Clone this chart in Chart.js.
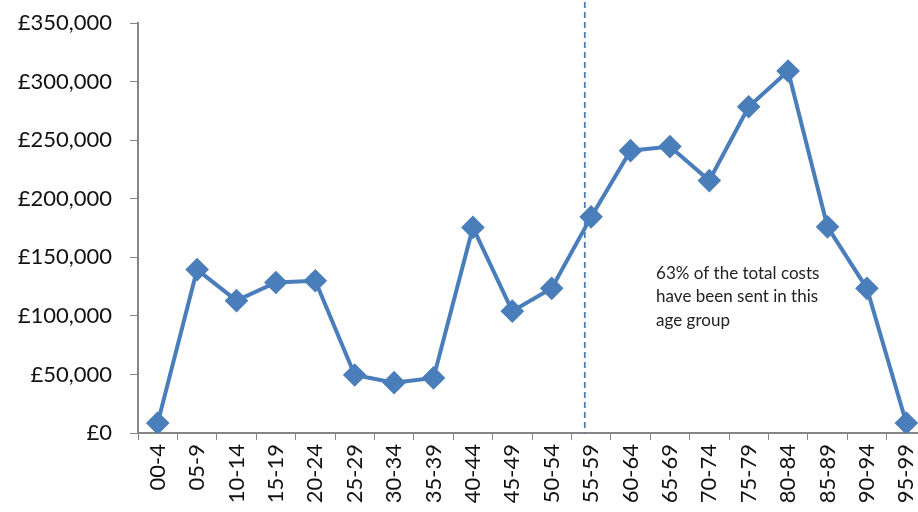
<!DOCTYPE html>
<html>
<head>
<meta charset="utf-8">
<script src="https://cdn.jsdelivr.net/npm/chart.js@4/dist/chart.umd.min.js"></script>
<style>
  html, body { margin: 0; padding: 0; background: #fff; overflow: hidden; }
  #wrap { width: 939px; height: 512px; }
</style>
</head>
<body>
<div id="wrap"><canvas id="costChart" width="939" height="512"></canvas></div>
<script>
var ageGroups = ['00-4', '05-9', '10-14', '15-19', '20-24', '25-29', '30-34', '35-39', '40-44', '45-49',
                 '50-54', '55-59', '60-64', '65-69', '70-74', '75-79', '80-84', '85-89', '90-94', '95-99'];
var costs = [8500, 139500, 113000, 128500, 130000, 49500, 43000, 47000, 175500, 104000,
             123500, 184500, 241000, 244500, 215500, 278500, 309000, 176000, 123500, 8500];
var yTicks = [0, 50000, 100000, 150000, 200000, 250000, 300000, 350000];
var markerPos = 10.84; // dashed line, between 50-54 and 55-59
var noteLines = ['63% of the total costs', 'have been sent in this', 'age group'];

var blue = '#4a7ebb';
var axisGrey = '#868686';

// dashed divider + note text
var notePlugin = {
    id: 'notePlugin',
    afterDatasetsDraw: function (chart) {
        var c = chart.ctx;
        var xs = chart.scales.x, ys = chart.scales.y;
        var px = xs.getPixelForValue(markerPos);
        c.save();
        c.strokeStyle = blue;
        c.lineWidth = 1.8;
        c.setLineDash([6, 4]);
        c.beginPath();
        c.moveTo(px, 2);
        c.lineTo(px, ys.bottom);
        c.stroke();
        c.restore();

        c.save();
        c.fillStyle = '#222';
        c.font = '17px Lato, "Open Sans", sans-serif';
        c.textBaseline = 'middle';
        var tx = xs.getPixelForValue(12.65);
        for (var i = 0; i < noteLines.length; i++) {
            c.fillText(noteLines[i], tx, ys.getPixelForValue(136500) + i * 23.5);
        }
        c.restore();
    }
};

var ctx = document.getElementById('costChart').getContext('2d');
var costChart = new Chart(ctx, {
    type: 'line',
    data: {
        labels: ageGroups,
        datasets: [{
            data: costs,
            borderColor: blue,
            backgroundColor: blue,
            borderWidth: 4,
            pointStyle: 'rectRot',
            pointRadius: 9,
            pointHoverRadius: 9,
            pointBackgroundColor: blue,
            pointBorderColor: blue,
            tension: 0,
            fill: false
        }]
    },
    options: {
        responsive: false,
        animation: false,
        layout: { padding: { top: 23, right: 0, left: 0, bottom: 0 } },
        plugins: {
            legend: { display: false },
            tooltip: { enabled: false }
        },
        scales: {
            x: {
                offset: true,
                grid: {
                    display: true,
                    drawOnChartArea: false,
                    drawTicks: true,
                    tickLength: 7,
                    color: axisGrey,
                    offset: true
                },
                border: { color: axisGrey, width: 2 },
                ticks: {
                    color: '#111',
                    font: { family: 'Lato, "Open Sans", sans-serif', size: 22 },
                    maxRotation: 90,
                    minRotation: 90,
                    autoSkip: false,
                    padding: 4
                },
                afterFit: function (scale) {
                    scale.height = 79;
                    scale.paddingLeft = 0;
                    scale.paddingRight = 0;
                }
            },
            y: {
                min: 0,
                max: 350000,
                afterBuildTicks: function (scale) {
                    scale.ticks = yTicks.map(function (v) { return { value: v }; });
                },
                grid: {
                    drawOnChartArea: false,
                    drawTicks: true,
                    tickLength: 8,
                    color: axisGrey
                },
                border: { color: axisGrey, width: 2 },
                ticks: {
                    color: '#111',
                    font: { family: 'Lato, "Open Sans", sans-serif', size: 22 },
                    padding: 18,
                    callback: function (v) { return '£' + v.toLocaleString('en-GB'); }
                },
                afterFit: function (scale) {
                    scale.width = 138;
                    scale.paddingTop = 0;
                    scale.paddingBottom = 0;
                }
            }
        }
    },
    plugins: [notePlugin]
});
</script>
</body>
</html>
